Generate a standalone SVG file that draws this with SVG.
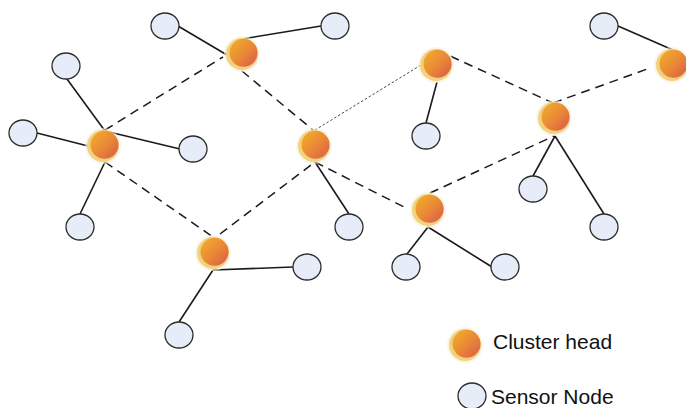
<svg xmlns="http://www.w3.org/2000/svg" width="686" height="408" viewBox="0 0 686 408">
  <style>
    .link { stroke: #1a1a1a; stroke-width: 1.6; fill: none; }
    .dash { stroke: #1a1a1a; stroke-width: 1.5; fill: none; stroke-dasharray: 9 6; }
    .dot { stroke: #333; stroke-width: 0.9; fill: none; stroke-dasharray: 2.5 2; }
    .sensor { fill: #e6edf8; stroke: #2a2a2a; stroke-width: 1.3; }
    .rim { fill: #f2d27c; }
    .core { fill: url(#chGrad); }
    .halo { fill: #f6efe0; opacity: 0.6; }
    .label { font-family: "Liberation Sans", Arial, sans-serif; font-size: 21px; fill: #111; }
  </style>
  <defs>
    <linearGradient id="chGrad" x1="0" y1="0" x2="1" y2="1">
      <stop offset="0" stop-color="#f1b22a"/>
      <stop offset="0.5" stop-color="#ea8a35"/>
      <stop offset="1" stop-color="#d8594a"/>
    </linearGradient>
    <g id="ch">
      <circle class="halo" cx="0" cy="0" r="18"/>
      <circle class="rim" cx="0" cy="0" r="16"/>
      <circle class="core" cx="1.5" cy="-1.2" r="14"/>
    </g>
    <ellipse id="sn" class="sensor" cx="0" cy="0" rx="14" ry="13"/>
  </defs>

  <g id="connectors">
    <!-- member links -->
    <line class="link" x1="178" y1="26" x2="227" y2="55"/>
    <line class="link" x1="242" y1="39" x2="321" y2="26"/>
    <line class="link" x1="67" y1="79" x2="105" y2="131"/>
    <line class="link" x1="37" y1="133" x2="88" y2="146"/>
    <line class="link" x1="105" y1="131" x2="180" y2="149"/>
    <line class="link" x1="105" y1="162" x2="80" y2="214"/>
    <line class="link" x1="315" y1="162" x2="349" y2="214"/>
    <line class="link" x1="213" y1="270" x2="293" y2="267"/>
    <line class="link" x1="213" y1="270" x2="179" y2="322"/>
    <line class="link" x1="437" y1="82" x2="426" y2="123"/>
    <line class="link" x1="673" y1="50" x2="618" y2="26"/>
    <line class="link" x1="555" y1="136" x2="533" y2="176"/>
    <line class="link" x1="555" y1="136" x2="604" y2="214"/>
    <line class="link" x1="428" y1="227" x2="407" y2="254"/>
    <line class="link" x1="428" y1="227" x2="492" y2="267"/>
    <!-- head-to-head links -->
    <line class="dash" x1="105" y1="130" x2="223" y2="57"/>
    <line class="dash" x1="242" y1="71" x2="313" y2="130"/>
    <line class="dot" x1="315" y1="130" x2="421" y2="65"/>
    <line class="dash" x1="437" y1="50" x2="553" y2="103"/>
    <line class="dash" x1="553" y1="103" x2="650" y2="68"/>
    <line class="dash" x1="315" y1="162" x2="406" y2="208"/>
    <line class="dash" x1="430" y1="193" x2="554" y2="136"/>
    <line class="dash" x1="105" y1="162" x2="213" y2="237"/>
    <line class="dash" x1="220" y1="234" x2="315" y2="162"/>
  </g>

  <!-- cluster heads -->
  <g id="ch1"><use href="#ch" x="242" y="54"/></g>
  <g id="ch2"><use href="#ch" x="103" y="146"/></g>
  <g id="ch3"><use href="#ch" x="314" y="146"/></g>
  <g id="ch4"><use href="#ch" x="436" y="65"/></g>
  <g id="ch5"><use href="#ch" x="672" y="65"/></g>
  <g id="ch6"><use href="#ch" x="554" y="118"/></g>
  <g id="ch7"><use href="#ch" x="213" y="253"/></g>
  <g id="ch8"><use href="#ch" x="428" y="210"/></g>

  <!-- sensor nodes -->
  <g id="sn1"><use href="#sn" x="165" y="26"/></g>
  <g id="sn2"><use href="#sn" x="335" y="26"/></g>
  <g id="sn3"><use href="#sn" x="66" y="66"/></g>
  <g id="sn4"><use href="#sn" x="23" y="133"/></g>
  <g id="sn5"><use href="#sn" x="193" y="149"/></g>
  <g id="sn6"><use href="#sn" x="604" y="26"/></g>
  <g id="sn7"><use href="#sn" x="426" y="136"/></g>
  <g id="sn8"><use href="#sn" x="533" y="189"/></g>
  <g id="sn9"><use href="#sn" x="80" y="227"/></g>
  <g id="sn10"><use href="#sn" x="307" y="267"/></g>
  <g id="sn11"><use href="#sn" x="179" y="335"/></g>
  <g id="sn12"><use href="#sn" x="349" y="227"/></g>
  <g id="sn13"><use href="#sn" x="604" y="227"/></g>
  <g id="sn14"><use href="#sn" x="406" y="267"/></g>
  <g id="sn15"><use href="#sn" x="505" y="267"/></g>

  <!-- legend -->
  <g id="legend-head">
    <use href="#ch" x="465" y="345"/>
    <text class="label" x="493" y="349">Cluster head</text>
  </g>
  <g id="legend-sensor">
    <use href="#sn" x="472" y="396"/>
    <text class="label" x="491" y="404">Sensor Node</text>
  </g>
</svg>
